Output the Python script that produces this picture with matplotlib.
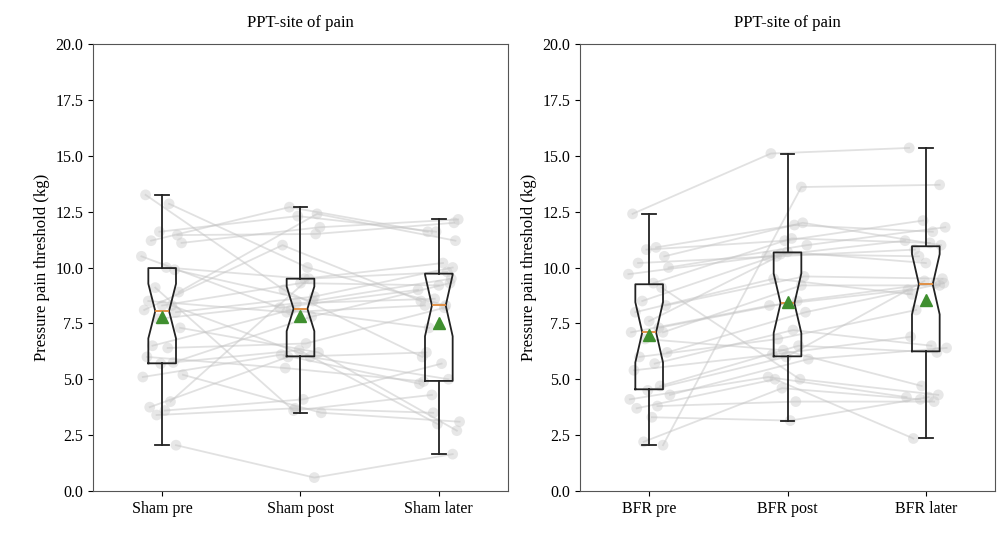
import matplotlib
matplotlib.use("Agg")
import matplotlib.pyplot as plt
import numpy as np

plt.rcParams['font.family'] = ['Liberation Serif', 'DejaVu Serif']

sham_labels = ["Sham pre", "Sham post", "Sham later"]
bfr_labels = ["BFR pre", "BFR post", "BFR later"]

sham_pre = [13.25,12.85,11.6,11.45,11.2,11.1,10.5,10.0,9.9,9.1,8.9,8.5,8.3,8.3,8.1,8.0,7.7,7.3,6.5,6.4,6.0,5.75,5.7,5.2,5.1,4.0,3.75,3.6,3.4,2.05]
sham_post = [9.0,10.0,12.3,11.5,12.7,11.8,8.2,9.5,8.5,3.6,12.4,8.0,9.3,6.0,11.0,8.7,8.4,6.2,8.1,6.6,5.5,7.8,6.3,3.5,6.1,9.5,6.0,4.1,3.7,0.6]
sham_later = [6.0,8.3,11.6,12.0,11.6,12.15,9.0,10.2,9.5,4.3,11.2,8.3,9.2,5.0,8.5,10.0,8.6,2.7,7.3,8.2,4.9,9.3,3.0,3.1,4.8,9.8,6.2,5.7,3.5,1.65]

bfr_pre = [12.4,10.9,10.8,10.5,10.2,10.0,9.7,9.3,9.1,8.5,8.3,8.0,7.6,7.3,7.1,7.1,6.8,6.2,6.0,5.7,5.4,4.7,4.5,4.3,4.1,3.8,3.7,3.3,2.2,2.05]
bfr_post = [15.1,11.9,11.2,12.0,10.5,11.0,10.5,11.3,5.0,10.6,9.6,9.5,10.7,8.5,8.3,9.2,6.3,8.0,6.8,7.2,6.1,6.5,6.0,5.9,5.1,4.0,5.0,3.15,4.6,13.6]
bfr_later = [15.35,11.6,12.1,11.0,10.8,11.8,11.2,11.1,4.3,10.5,9.5,8.8,10.2,9.3,9.0,9.2,4.7,9.3,8.1,6.5,6.9,6.2,9.4,6.4,4.2,4.0,2.35,4.2,4.1,13.7]

jitter = [-0.12,0.05,-0.02,0.11,-0.08,0.14,-0.15,0.03,0.09,-0.05,0.12,-0.1,0.0,0.07,-0.13,0.1,-0.03,0.13,-0.07,0.04,-0.11,0.08,-0.01,0.15,-0.14,0.06,-0.09,0.02,-0.04,0.1]

fig = plt.figure(figsize=(10.04, 5.35), dpi=100)
axL = fig.add_axes([93/1004, 44/535, 415/1004, 447/535])
axR = fig.add_axes([580/1004, 44/535, 415/1004, 447/535])

def panel(ax, series, labels):
    n = len(series[0])
    for i in range(n):
        xs = [k + 1 + jitter[i] for k in range(3)]
        ys = [s[i] for s in series]
        ax.plot(xs, ys, color='#c4c4c4', alpha=0.5, lw=1.3, zorder=1)
        ax.scatter(xs, ys, s=60, color='#c4c4c4', alpha=0.4, edgecolors='none', zorder=1)
    ax.boxplot(series, positions=[1, 2, 3], notch=True, widths=0.2, showmeans=True,
               patch_artist=False, showfliers=False,
               boxprops=dict(color='#222222', lw=1.3),
               whiskerprops=dict(color='#222222', lw=1.3),
               capprops=dict(color='#222222', lw=1.3),
               medianprops=dict(color='#e08a3a', lw=1.3),
               meanprops=dict(marker='^', markerfacecolor='#3f8f2f', markeredgecolor='#3f8f2f', markersize=8),
               zorder=3)
    ax.set_ylim(0, 20)
    ax.set_xlim(0.5, 3.5)
    ax.set_yticks(np.arange(0, 20.1, 2.5))
    ax.set_yticklabels([f"{v:.1f}" for v in np.arange(0, 20.1, 2.5)])
    ax.set_xticks([1, 2, 3])
    ax.set_xticklabels(labels)
    ax.tick_params(labelsize=11.5)
    ax.set_ylabel("Pressure pain threshold (kg)", fontsize=12)
    ax.set_title("PPT-site of pain", fontsize=12, pad=12)
    for sp in ax.spines.values():
        sp.set_color('#555555')

panel(axL, [sham_pre, sham_post, sham_later], sham_labels)
panel(axR, [bfr_pre, bfr_post, bfr_later], bfr_labels)

fig.savefig("out.png", dpi=100)
